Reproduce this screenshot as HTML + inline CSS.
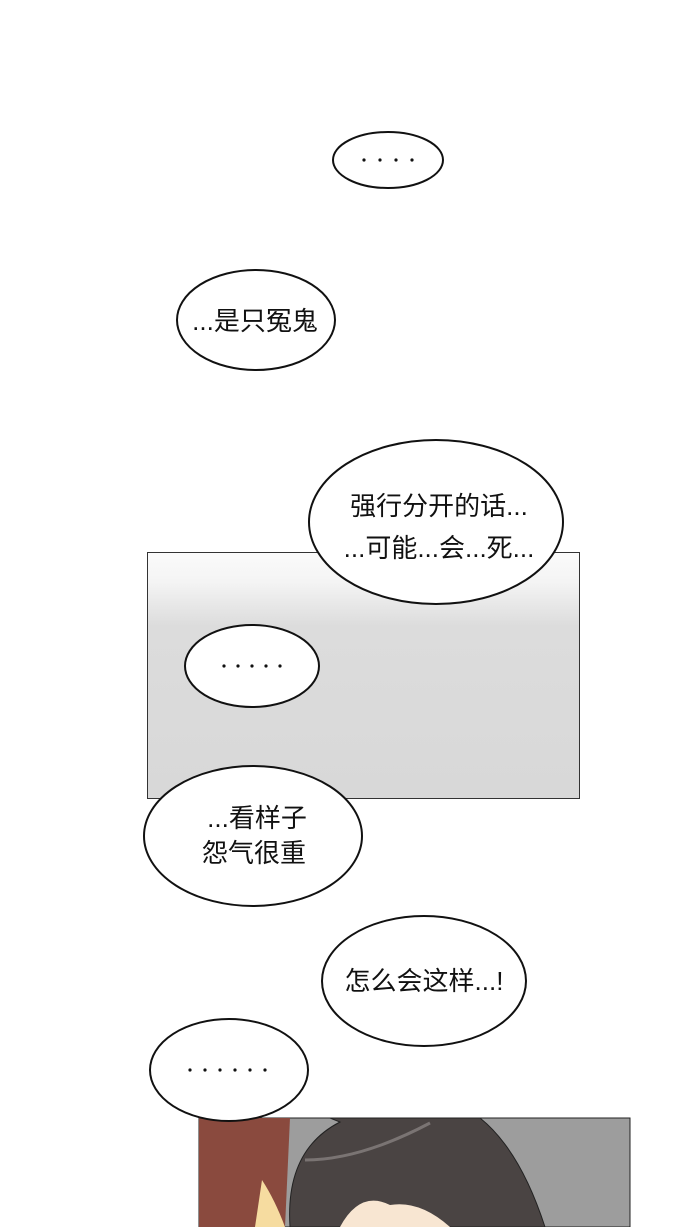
<!DOCTYPE html>
<html><head><meta charset="utf-8"><style>
html,body{margin:0;padding:0;background:#fff;width:690px;height:1227px;overflow:hidden}
svg text{font-family:"Liberation Sans","Noto Sans CJK SC",sans-serif;fill:#111}
</style></head><body>
<svg width="690" height="1227" viewBox="0 0 690 1227" xmlns="http://www.w3.org/2000/svg">
<defs>
<linearGradient id="g" x1="0" y1="0" x2="0" y2="1">
<stop offset="0" stop-color="#fbfbfb"/><stop offset="0.12" stop-color="#f4f4f4"/><stop offset="0.3" stop-color="#dcdcdc"/><stop offset="1" stop-color="#d8d8d8"/>
</linearGradient>
</defs>
<rect x="147.5" y="552.5" width="432" height="246" fill="url(#g)" stroke="#333" stroke-width="1"/>
<rect x="199" y="1118" width="431" height="109" fill="#9d9d9d" stroke="#222" stroke-width="1"/>
<path d="M199 1118 L290 1118 L285 1227 L199 1227 Z" fill="#8a4a3e"/>
<path d="M262 1180 Q275 1200 285 1227 L255 1227 Z" fill="#f6dca0"/>
<path d="M290 1227 Q285 1150 340 1122 L330 1118 L480 1118 Q520 1150 545 1227 Z" fill="#4a4443" stroke="#222"/>
<path d="M340 1227 Q360 1190 390 1205 Q420 1200 450 1227 Z" fill="#f8e6d2"/>
<path d="M305 1160 Q360 1160 430 1123" fill="none" stroke="#7a7473" stroke-width="3"/>
<g fill="#fff" stroke="#111" stroke-width="2">
<ellipse cx="388" cy="160" rx="55" ry="28"/>
<ellipse cx="256" cy="320" rx="79" ry="50"/>
<ellipse cx="436" cy="522" rx="127" ry="82"/>
<ellipse cx="252" cy="666" rx="67" ry="41"/>
<ellipse cx="253" cy="836" rx="109" ry="70"/>
<ellipse cx="424" cy="981" rx="102" ry="65"/>
<ellipse cx="229" cy="1070" rx="79" ry="51"/>
</g>
<g fill="#111">
<circle cx="364" cy="160" r="1.6"/><circle cx="380" cy="160" r="1.6"/><circle cx="396" cy="160" r="1.6"/><circle cx="412" cy="160" r="1.6"/>
<circle cx="224" cy="666" r="1.6"/><circle cx="238" cy="666" r="1.6"/><circle cx="252" cy="666" r="1.6"/><circle cx="266" cy="666" r="1.6"/><circle cx="280" cy="666" r="1.6"/>
<circle cx="190" cy="1070" r="1.6"/><circle cx="205" cy="1070" r="1.6"/><circle cx="220" cy="1070" r="1.6"/><circle cx="235" cy="1070" r="1.6"/><circle cx="250" cy="1070" r="1.6"/><circle cx="265" cy="1070" r="1.6"/>
</g>
<g font-size="26" text-anchor="middle">
<text x="255" y="330">...是只冤鬼</text>
<text x="439" y="515">强行分开的话...</text>
<text x="439" y="557">...可能...会...死...</text>
<text x="257" y="827">...看样子</text>
<text x="254" y="862">怨气很重</text>
<text x="424" y="990">怎么会这样...!</text>
</g>
</svg>
</body></html>
